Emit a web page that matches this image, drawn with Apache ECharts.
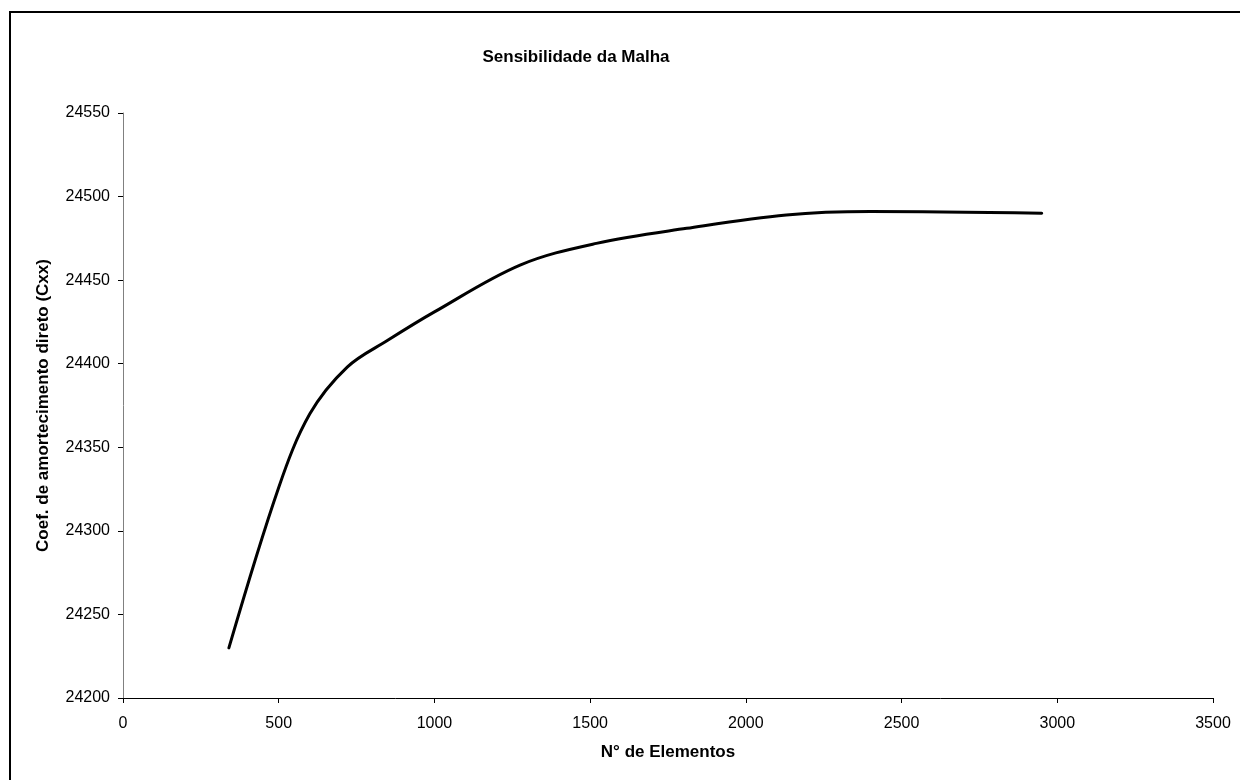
<!DOCTYPE html>
<html>
<head>
<meta charset="utf-8">
<script src="https://cdn.jsdelivr.net/npm/echarts@6/dist/echarts.min.js"></script>
<style>
html,body{margin:0;padding:0;background:#fff;}
#c{width:1240px;height:780px;}
</style>
</head>
<body>
<div id="c"></div>
<script>
const titleText = "Sensibilidade da Malha";
const xName = "N° de Elementos";
const yName = "Coef. de amortecimento direto (Cxx)";
const elementos = [340, 500, 600, 720, 850, 1000, 1275, 1520, 1810, 2130, 2400, 2950];
const cxx = [24230, 24326, 24370, 24398, 24414, 24431, 24459, 24472, 24481, 24489, 24491, 24490];

const chart = echarts.init(document.getElementById('c'), null, {renderer: 'canvas'});
const font = '"Liberation Sans", Arial, sans-serif';
chart.setOption({
  animation: false,
  backgroundColor: '#fff',
  title: {
    text: titleText,
    left: 571, top: 44, textAlign: 'center',
    textStyle: {fontFamily: font, fontSize: 17, fontWeight: 'bold', color: '#000'}
  },
  grid: {left: 123, right: 27, top: 113, bottom: 82},
  xAxis: {
    type: 'value', min: 0, max: 3500, interval: 500,
    name: xName, nameLocation: 'middle', nameGap: 46,
    nameTextStyle: {fontFamily: font, fontSize: 17, fontWeight: 'bold', color: '#000'},
    axisLine: {show: true, onZero: false, lineStyle: {color: '#000', width: 1}},
    axisTick: {show: true, length: 5, lineStyle: {color: '#000'}},
    axisLabel: {fontFamily: font, fontSize: 16, color: '#000', margin: 18, formatter: v => String(v)},
    splitLine: {show: false}
  },
  yAxis: {
    type: 'value', min: 24200, max: 24550, interval: 50,
    name: yName, nameLocation: 'middle', nameGap: 71, nameRotate: 90,
    nameTextStyle: {fontFamily: font, fontSize: 17, fontWeight: 'bold', color: '#000'},
    axisLine: {show: true, lineStyle: {color: '#808080', width: 1}},
    axisTick: {show: true, length: 5, lineStyle: {color: '#000'}},
    axisLabel: {fontFamily: font, fontSize: 16, color: '#000', margin: 13, formatter: v => String(v)},
    splitLine: {show: false}
  },
  series: [{
    type: 'line',
    data: elementos.map((x, i) => [x, cxx[i]]),
    smooth: 0.35,
    showSymbol: false,
    lineStyle: {color: '#000', width: 3, cap: 'round'}
  }],
  graphic: [{
    type: 'rect',
    shape: {x: 10, y: 12, width: 1300, height: 900},
    style: {fill: null, stroke: '#000', lineWidth: 2},
    silent: true, z: 100
  }]
});
</script>
</body>
</html>
